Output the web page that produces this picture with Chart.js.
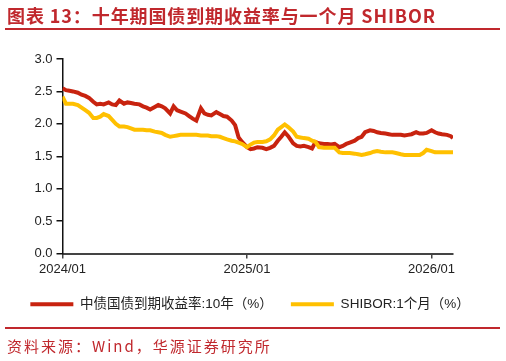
<!DOCTYPE html>
<html>
<head>
<meta charset="utf-8">
<script src="https://cdn.jsdelivr.net/npm/chart.js@4/dist/chart.umd.min.js"></script>
<style>
  html, body { margin: 0; padding: 0; background: #fff; }
  body { width: 506px; height: 361px; position: relative; overflow: hidden; }
  #title { position: absolute; left: 7px; top: 3px; font-family: "Noto Sans CJK SC", sans-serif; font-size: 18px; font-weight: bold; color: #c0282d; letter-spacing: 0.9px; white-space: nowrap; line-height: 24px; }
  #rule1 { position: absolute; left: 5px; width: 495px; top: 28px; height: 2px; background: #c0282d; }
  #rule2 { position: absolute; left: 5px; width: 495px; top: 327px; height: 2px; background: #c0282d; }
  #source { position: absolute; left: 7px; top: 336px; font-family: "Noto Sans CJK SC", sans-serif; font-size: 15px; color: #c0282d; letter-spacing: 2px; white-space: nowrap; line-height: 20px; }
  #wrap { position: absolute; left: 0; top: 0; width: 506px; height: 361px; }
</style>
</head>
<body>
<div id="wrap"><canvas id="c" width="506" height="361"></canvas></div>
<div id="title">图表 13：十年期国债到期收益率与一个月 SHIBOR</div>
<div id="rule1"></div>
<div id="rule2"></div>
<div id="source">资料来源：Wind，华源证券研究所</div>
<script>
const dates = [
  "2024-01-01","2024-01-08","2024-01-15","2024-01-22",
  "2024-02-01","2024-02-08","2024-02-15","2024-02-22",
  "2024-03-01","2024-03-08","2024-03-15","2024-03-22",
  "2024-04-01","2024-04-08","2024-04-15","2024-04-22",
  "2024-05-01","2024-05-08","2024-05-15","2024-05-22",
  "2024-06-01","2024-06-08","2024-06-15","2024-06-22",
  "2024-07-01","2024-07-08","2024-07-15","2024-07-22",
  "2024-08-01","2024-08-08","2024-08-15","2024-08-22",
  "2024-09-01","2024-09-08","2024-09-15","2024-09-22",
  "2024-10-01","2024-10-08","2024-10-15","2024-10-22",
  "2024-11-01","2024-11-08","2024-11-15","2024-11-22",
  "2024-12-01","2024-12-08","2024-12-15","2024-12-22",
  "2025-01-01","2025-01-08","2025-01-15","2025-01-22",
  "2025-02-01","2025-02-08","2025-02-15","2025-02-22",
  "2025-03-01","2025-03-08","2025-03-15","2025-03-22",
  "2025-04-01","2025-04-08","2025-04-15","2025-04-22",
  "2025-05-01","2025-05-08","2025-05-15","2025-05-22",
  "2025-06-01","2025-06-08","2025-06-15","2025-06-22",
  "2025-07-01","2025-07-08","2025-07-15","2025-07-22",
  "2025-08-01","2025-08-08","2025-08-15","2025-08-22",
  "2025-09-01","2025-09-08","2025-09-15","2025-09-22",
  "2025-10-01","2025-10-08","2025-10-15","2025-10-22",
  "2025-11-01","2025-11-08","2025-11-15","2025-11-22",
  "2025-12-01","2025-12-08","2025-12-15","2025-12-22",
  "2026-01-01","2026-01-08","2026-01-15","2026-01-22",
  "2026-02-01","2026-02-08","2026-02-12"
];

const cgb10y = [
  2.55, 2.52, 2.51, 2.50,
  2.48, 2.45, 2.43, 2.40,
  2.34, 2.30, 2.31, 2.30,
  2.33, 2.30, 2.29, 2.36,
  2.31, 2.33, 2.32, 2.31,
  2.30, 2.27, 2.25, 2.22,
  2.26, 2.29, 2.27, 2.24,
  2.16, 2.27, 2.21, 2.19,
  2.16, 2.12, 2.08, 2.05,
  2.24, 2.16, 2.14, 2.13,
  2.18, 2.15, 2.12, 2.11,
  2.05, 1.98, 1.79, 1.72,
  1.64, 1.61, 1.62, 1.64,
  1.63, 1.61, 1.63, 1.66,
  1.74, 1.80, 1.87, 1.81,
  1.70, 1.66, 1.65, 1.66,
  1.64, 1.62, 1.72, 1.70,
  1.69, 1.69, 1.68, 1.69,
  1.64, 1.66, 1.69, 1.71,
  1.74, 1.78, 1.80, 1.87,
  1.90, 1.89, 1.87, 1.86,
  1.85, 1.84, 1.83, 1.83,
  1.83, 1.82, 1.83, 1.84,
  1.87, 1.85, 1.85, 1.86,
  1.90, 1.87, 1.85, 1.84,
  1.83, 1.81, 1.78
];

const shibor1m = [
  2.42, 2.31, 2.31, 2.31,
  2.29, 2.25, 2.21, 2.17,
  2.09, 2.09, 2.11, 2.15,
  2.12, 2.06, 2.00, 1.96,
  1.96, 1.95, 1.93, 1.91,
  1.91, 1.91, 1.90, 1.90,
  1.88, 1.87, 1.86, 1.83,
  1.80, 1.81, 1.82, 1.83,
  1.83, 1.83, 1.83, 1.83,
  1.82, 1.82, 1.82, 1.81,
  1.81, 1.80, 1.78, 1.76,
  1.74, 1.73, 1.71, 1.69,
  1.64, 1.68, 1.71, 1.72,
  1.72, 1.73, 1.76, 1.82,
  1.91, 1.95, 1.99, 1.95,
  1.88, 1.80, 1.79, 1.78,
  1.77, 1.74, 1.72, 1.64,
  1.63, 1.63, 1.63, 1.63,
  1.56, 1.55, 1.55, 1.55,
  1.54, 1.53, 1.52, 1.53,
  1.55, 1.57, 1.58, 1.57,
  1.56, 1.56, 1.56, 1.55,
  1.53, 1.52, 1.52, 1.52,
  1.52, 1.52, 1.55, 1.60,
  1.58, 1.56, 1.56, 1.56,
  1.56, 1.56, 1.56
];

const seriesNames = ["中债国债到期收益率:10年（%）", "SHIBOR:1个月（%）"];
const xTickLabels = ["2024/01", "2025/01", "2026/01"];
const yTicks = [0, 0.5, 1.0, 1.5, 2.0, 2.5, 3.0];

// convert a date string to months since 2024/01
function toMonths(s) {
  const [y, m, d] = s.split("-").map(Number);
  const dim = new Date(y, m, 0).getDate();
  return (y - 2024) * 12 + (m - 1) + (d - 1) / dim;
}
const xs = dates.map(toMonths);
const xTickValues = xTickLabels.map(l => { const [y, m] = l.split("/").map(Number); return (y - 2024) * 12 + (m - 1); });

const RED = "#c8230f";
const YEL = "#ffc000";
const FONT = "'Liberation Sans', 'Noto Sans CJK SC', sans-serif";

new Chart(document.getElementById("c"), {
  type: "line",
  data: {
    datasets: [
      { label: seriesNames[0], data: xs.map((x, i) => ({ x, y: cgb10y[i] })), borderColor: RED, backgroundColor: RED, borderWidth: 4, pointRadius: 0, tension: 0, order: 1 },
      { label: seriesNames[1], data: xs.map((x, i) => ({ x, y: shibor1m[i] })), borderColor: YEL, backgroundColor: YEL, borderWidth: 4, pointRadius: 0, tension: 0, order: 0 }
    ]
  },
  options: {
    responsive: false,
    animation: false,
    layout: { padding: { top: 59, right: 6, bottom: 40, left: 0 } },
    plugins: {
      title: { display: false },
      tooltip: { enabled: false },
      legend: {
        position: "bottom",
        labels: {
          boxWidth: 43,
          boxHeight: 4,
          padding: 18,
          color: "#222",
          font: { family: FONT, size: 13.5 },
          sort: (a, b) => a.datasetIndex - b.datasetIndex,
          generateLabels: (chart) => Chart.defaults.plugins.legend.labels.generateLabels(chart).map(it => Object.assign(it, { lineWidth: 0 }))
        }
      }
    },
    scales: {
      x: {
        type: "linear",
        min: 0,
        max: xs[xs.length - 1],
        afterBuildTicks: (s) => { s.ticks = xTickValues.map(v => ({ value: v })); },
        afterFit: (s) => { s.height = 26; },
        ticks: {
          callback: (v) => { const i = xTickValues.indexOf(v); return i >= 0 ? xTickLabels[i] : ""; },
          color: "#222",
          font: { family: FONT, size: 13 },
          padding: 3,
          maxRotation: 0,
          autoSkip: false
        },
        grid: { display: true, drawOnChartArea: false, drawTicks: true, tickLength: 5, color: "#444", lineWidth: 1.5 },
        border: { display: true, color: "#444", width: 2 }
      },
      y: {
        min: 0,
        max: 3,
        afterBuildTicks: (s) => { s.ticks = yTicks.map(v => ({ value: v })); },
        afterFit: (s) => { s.width = 62.5; },
        ticks: {
          callback: (v) => v.toFixed(1),
          color: "#222",
          font: { family: FONT, size: 13 },
          padding: 4
        },
        grid: { display: true, drawOnChartArea: false, drawTicks: true, tickLength: 6, color: "#111", lineWidth: 1.5 },
        border: { display: true, color: "#111", width: 1.5 }
      },
      yRight: {
        type: "linear",
        position: "right",
        display: true,
        min: 0,
        max: 3,
        afterFit: (s) => { s.width = 47; },
        ticks: { display: false },
        grid: { display: false },
        border: { display: false }
      }
    }
  }
});
</script>
</body>
</html>
